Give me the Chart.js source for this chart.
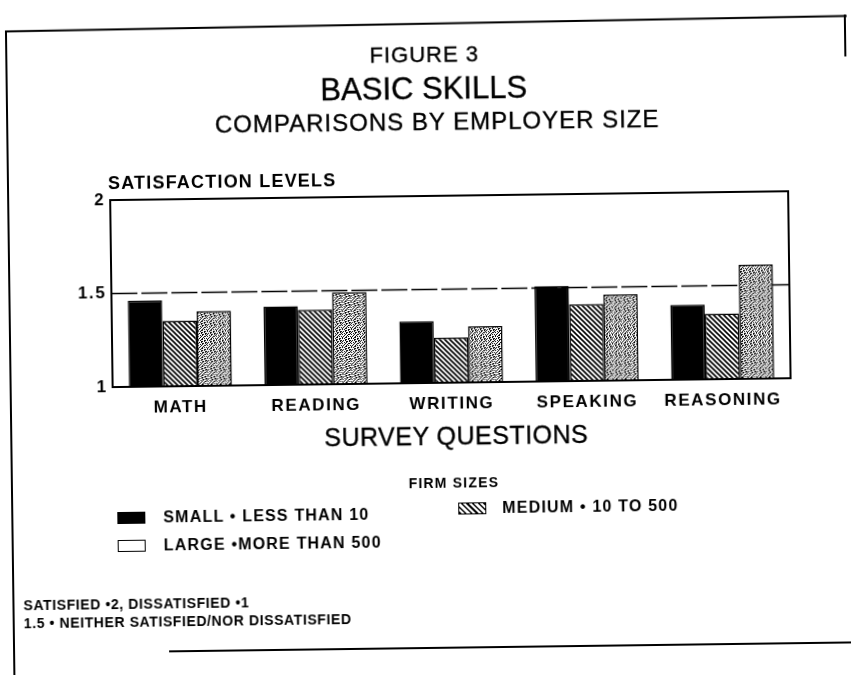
<!DOCTYPE html>
<html><head><meta charset="utf-8">
<script src="https://cdn.jsdelivr.net/npm/chart.js@4.4.0/dist/chart.umd.min.js"></script>
<style>
html,body{margin:0;padding:0;background:#fff;}
#wrap{position:relative;width:851px;height:675px;overflow:hidden;background:#fff;transform:rotate(-0.75deg);transform-origin:425px 337px;}
#c{position:absolute;left:0;top:0;}
.t{position:absolute;white-space:nowrap;font-family:"Liberation Sans",Arial,Helvetica,sans-serif;color:#000;line-height:1;}
.c{transform:translate(-50%,-50%);}
.l{transform:translate(0,-50%);}
.b{font-weight:bold;letter-spacing:1.2px;}
.h{-webkit-text-stroke:0.35px #000;}
.sw{position:absolute;width:28px;height:12px;box-sizing:border-box;border:1.5px solid #000;}
.fr{position:absolute;background:#000;}
</style></head>
<body>
<div id="wrap">
<canvas id="c" width="851" height="675"></canvas>
<div class="fr" style="left:9px;top:25px;width:842px;height:2px;transform:rotate(-0.3deg);transform-origin:0 0;"></div>
<div class="fr" style="left:9px;top:26px;width:2px;height:660px;"></div>
<div class="fr" style="left:848px;top:20px;width:2px;height:42px;"></div>
<div class="fr" style="left:165px;top:647px;width:700px;height:2px;"></div>

<div class="t c h" style="left:428px;top:55px;font-size:22px;letter-spacing:1px;">FIGURE 3</div>
<div class="t c h" style="left:427px;top:88px;font-size:31px;">BASIC SKILLS</div>
<div class="t c h" style="left:440px;top:122px;font-size:24px;letter-spacing:1px;">COMPARISONS BY EMPLOYER SIZE</div>
<div class="t l b" style="left:110px;top:179px;font-size:18px;">SATISFACTION LEVELS</div>
<div class="t c h" style="left:455px;top:436px;font-size:25px;letter-spacing:0.5px;">SURVEY QUESTIONS</div>

<div class="t c b" style="left:452px;top:483px;font-size:14px;">FIRM SIZES</div>
<div class="sw" style="left:115px;top:508px;background:#000;"></div>
<div class="t l b" style="left:161px;top:514px;font-size:16px;">SMALL • LESS THAN 10</div>
<div class="sw" style="left:456px;top:503px;background:repeating-linear-gradient(45deg,#000 0 1.5px,#fff 1.5px 4px);"></div>
<div class="t l b" style="left:500px;top:509px;font-size:16px;">MEDIUM • 10 TO 500</div>
<div class="sw" style="left:115px;top:536px;background:#fff;"></div>
<div class="t l b" style="left:161px;top:542px;font-size:16px;">LARGE •MORE THAN 500</div>

<div class="t l b" style="left:20px;top:600px;font-size:14px;letter-spacing:0.6px;">SATISFIED •2, DISSATISFIED •1</div>
<div class="t l b" style="left:20px;top:618px;font-size:14px;letter-spacing:0.6px;">1.5 • NEITHER SATISFIED/NOR DISSATISFIED</div>
</div>
<script>
const categories = ["MATH", "READING", "WRITING", "SPEAKING", "REASONING"];
const seriesNames = ["SMALL • LESS THAN 10", "MEDIUM • 10 TO 500", "LARGE •MORE THAN 500"];
const smallValues  = [1.46, 1.42, 1.33, 1.51, 1.40];
const mediumValues = [1.35, 1.40, 1.24, 1.41, 1.35];
const largeValues  = [1.40, 1.49, 1.30, 1.46, 1.61];
const yTicks = [1, 1.5, 2];
const neutralLevel = 1.5;

function hatchPattern(ctx){
  const c=document.createElement('canvas'); c.width=c.height=5;
  const g=c.getContext('2d');
  g.fillStyle='#fff'; g.fillRect(0,0,5,5);
  g.strokeStyle='#000'; g.lineWidth=1.6;
  g.beginPath();
  g.moveTo(-1,-1); g.lineTo(6,6);
  g.moveTo(-1,4); g.lineTo(1,6);
  g.moveTo(4,-1); g.lineTo(6,1);
  g.stroke();
  return ctx.createPattern(c,'repeat');
}
function stipplePattern(ctx){
  const rows=[
    "100100110",
    "001001000",
    "010010101",
    "100110000",
    "101000110",
    "000110100",
    "010100011",
    "100011010",
    "001010001"];
  const n=rows.length;
  const c=document.createElement('canvas'); c.width=c.height=n;
  const g=c.getContext('2d');
  g.fillStyle='#fff'; g.fillRect(0,0,n,n);
  g.fillStyle='#000';
  rows.forEach((r,y)=>{ for(let x=0;x<r.length;x++){ if(r[x]==='1') g.fillRect(x,y,1,1);} });
  return ctx.createPattern(c,'repeat');
}

const canvas=document.getElementById('c');
const ctx=canvas.getContext('2d');

const framePlugin={
  id:'frame',
  beforeDraw(chart){ chart.ctx.letterSpacing='1.6px'; },
  beforeDatasetsDraw(chart){
    const {ctx,chartArea:a,scales:{y}}=chart;
    const yy=y.getPixelForValue(neutralLevel);
    ctx.save();
    ctx.strokeStyle='#000'; ctx.lineWidth=1.5;
    ctx.setLineDash([26,4]);
    ctx.beginPath(); ctx.moveTo(a.left,yy); ctx.lineTo(a.right,yy); ctx.stroke();
    ctx.restore();
  },
  afterDatasetsDraw(chart){
    const {ctx,chartArea:a}=chart;
    ctx.save();
    ctx.strokeStyle='#000'; ctx.lineWidth=2;
    ctx.strokeRect(a.left,a.top,a.right-a.left,a.bottom-a.top);
    ctx.restore();
  }
};

new Chart(ctx,{
  type:'bar',
  data:{
    labels:categories,
    datasets:[
      {label:seriesNames[0],data:smallValues,backgroundColor:'#000',borderColor:'#000',borderWidth:1.5},
      {label:seriesNames[1],data:mediumValues,backgroundColor:hatchPattern(ctx),borderColor:'#000',borderWidth:1.5},
      {label:seriesNames[2],data:largeValues,backgroundColor:stipplePattern(ctx),borderColor:'#000',borderWidth:1.5}
    ]
  },
  options:{
    responsive:false,
    animation:false,
    devicePixelRatio:1,
    layout:{padding:{left:62,right:61,top:196,bottom:224}},
    plugins:{legend:{display:false},tooltip:{enabled:false},title:{display:false}},
    datasets:{bar:{categoryPercentage:0.76,barPercentage:1,base:1}},
    scales:{
      x:{
        grid:{display:false,drawTicks:false},
        border:{display:false},
        ticks:{color:'#000',font:{family:'"Liberation Sans",Arial,sans-serif',weight:'bold',size:17},padding:11,maxRotation:0,autoSkip:false},
        title:{display:false},
        afterFit(s){s.height=68;}
      },
      y:{
        min:1,max:2,
        afterBuildTicks(s){s.ticks=yTicks.map(v=>({value:v}));},
        grid:{display:false,drawTicks:false},
        border:{display:false},
        ticks:{color:'#000',font:{family:'"Liberation Sans",Arial,sans-serif',weight:'bold',size:17},padding:5,
          callback:(v)=>String(v)},
        afterFit(s){s.width=50;}
      }
    }
  },
  plugins:[framePlugin]
});
</script>
</body></html>
